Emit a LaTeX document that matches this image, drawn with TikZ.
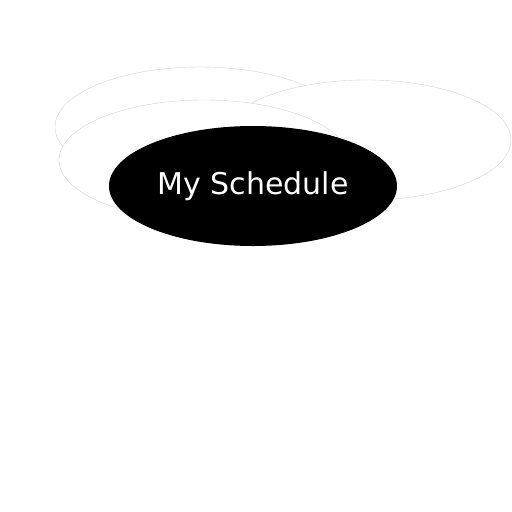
\documentclass[tikz,border=0pt]{standalone}
\usepackage{fontspec}
\setmainfont{DejaVu Sans}
\usetikzlibrary{shapes.geometric}
\begin{document}
\begin{tikzpicture}[x=1pt,y=-1pt,
	bubble/.style={ellipse, draw=black!16, line width=0.4pt, fill=white,
		minimum width=290pt, minimum height=120pt, inner sep=0pt},
	title/.style={ellipse, fill=black, text=white, font=\fontsize{30}{36}\selectfont,
		minimum width=288pt, minimum height=120pt, inner sep=0pt}]
	\useasboundingbox (0,0) rectangle (512,512);
	\fill[white] (0,0) rectangle (512,512);
	\node[bubble] (back) at (200,127) {};
	\node[bubble] (right) at (366,140) {};
	\node[bubble] (front) at (204,160) {};
	\node[title] (schedule) at (253,186) {\raisebox{2pt}{My Schedule}};
\end{tikzpicture}
\end{document}
